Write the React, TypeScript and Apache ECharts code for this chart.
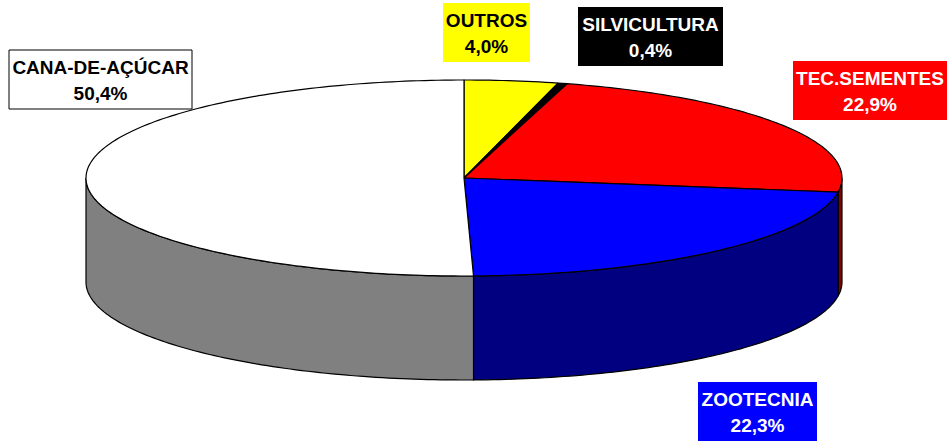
import React, { useEffect, useRef } from 'react';
import * as echarts from 'echarts';

// ---- data ----
const categories = ['OUTROS', 'SILVICULTURA', 'TEC.SEMENTES', 'ZOOTECNIA', 'CANA-DE-AÇÚCAR'];
const shares = [4.0, 0.4, 22.9, 22.3, 50.4];

// ---- styles / layout ----
const topColors = ['#FFFF00', '#000000', '#FF0000', '#0000FF', '#FFFFFF'];
const sideColors = ['#808000', '#000000', '#800000', '#000080', '#808080'];
const labelFill = ['#FFFF00', '#000000', '#FF0000', '#0000FF', '#FFFFFF'];
const labelTextColors = ['#000000', '#FFFFFF', '#FFFFFF', '#FFFFFF', '#000000'];
const labelBorder = [null, null, null, null, '#000000'];
const labelBoxes = [
  [443, 3, 87, 59],
  [578, 7, 145, 59],
  [793, 61, 154, 59],
  [698, 382, 119, 59],
  [9, 50, 183, 59],
];
const PIE = { cx: 464, cy: 178, rx: 378, ry: 98, depth: 104 };

const fmt = (v: number) => v.toFixed(1).replace('.', ',') + '%';

function pt(a: number, dy = 0): number[] {
  return [PIE.cx + PIE.rx * Math.sin(a), PIE.cy - PIE.ry * Math.cos(a) + dy];
}
function arc(a0: number, a1: number, dy = 0): number[][] {
  const n = Math.max(2, Math.ceil(((a1 - a0) / (Math.PI * 2)) * 360));
  const out: number[][] = [];
  for (let i = 0; i <= n; i++) out.push(pt(a0 + ((a1 - a0) * i) / n, dy));
  return out;
}

export default function App() {
  const ref = useRef<HTMLDivElement>(null);
  useEffect(() => {
    if (!ref.current) return;
    const chart = echarts.init(ref.current, undefined, { renderer: 'svg' });
    const total = shares.reduce((s, v) => s + v, 0);
    const cum: number[] = [];
    shares.reduce((s, v, i) => {
      cum[i] = s;
      return s + v;
    }, 0);

    const renderItem = (params: any, api: any) => {
      const i = params.dataIndex;
      const v = api.value(0);
      const a0 = (cum[i] / total) * Math.PI * 2;
      const a1 = ((cum[i] + v) / total) * Math.PI * 2;
      const children: any[] = [];
      const s0 = Math.max(a0, Math.PI / 2);
      const s1 = Math.min(a1, (Math.PI * 3) / 2);
      if (s1 > s0) {
        const top = arc(s0, s1);
        const bot = arc(s0, s1, PIE.depth).reverse();
        children.push({
          type: 'polygon',
          shape: { points: top.concat(bot) },
          style: { fill: sideColors[i], stroke: '#000', lineWidth: 1.2 },
        });
      }
      children.push({
        type: 'polygon',
        shape: { points: [[PIE.cx, PIE.cy]].concat(arc(a0, a1)) },
        style: { fill: topColors[i], stroke: '#000', lineWidth: 1.2, lineJoin: 'round' },
      });
      return { type: 'group', children };
    };

    const graphics: any[] = categories.map((name, i) => {
      const [x, y, w, h] = labelBoxes[i];
      return {
        type: 'group',
        children: [
          {
            type: 'rect',
            shape: { x, y, width: w, height: h },
            style: {
              fill: labelFill[i],
              stroke: labelBorder[i] || 'none',
              lineWidth: 1,
            },
          },
          {
            type: 'text',
            x: x + w / 2,
            y: y + h / 2 + 1,
            style: {
              text: name + '\n' + fmt(shares[i]),
              fill: labelTextColors[i],
              font: 'bold 19px "Liberation Sans", Arial, sans-serif',
              lineHeight: 26,
              align: 'center',
              verticalAlign: 'middle',
            },
          },
        ],
      };
    });

    chart.setOption({
      animation: false,
      backgroundColor: '#FFFFFF',
      series: [
        {
          type: 'custom',
          coordinateSystem: 'none',
          renderItem,
          data: shares.map((v) => [v]),
          silent: true,
        },
      ],
      graphic: graphics,
    });
    return () => chart.dispose();
  }, []);
  return (
    <div
      ref={ref}
      style={{ position: 'absolute', left: 0, top: 0, width: 952, height: 441 }}
    />
  );
}
